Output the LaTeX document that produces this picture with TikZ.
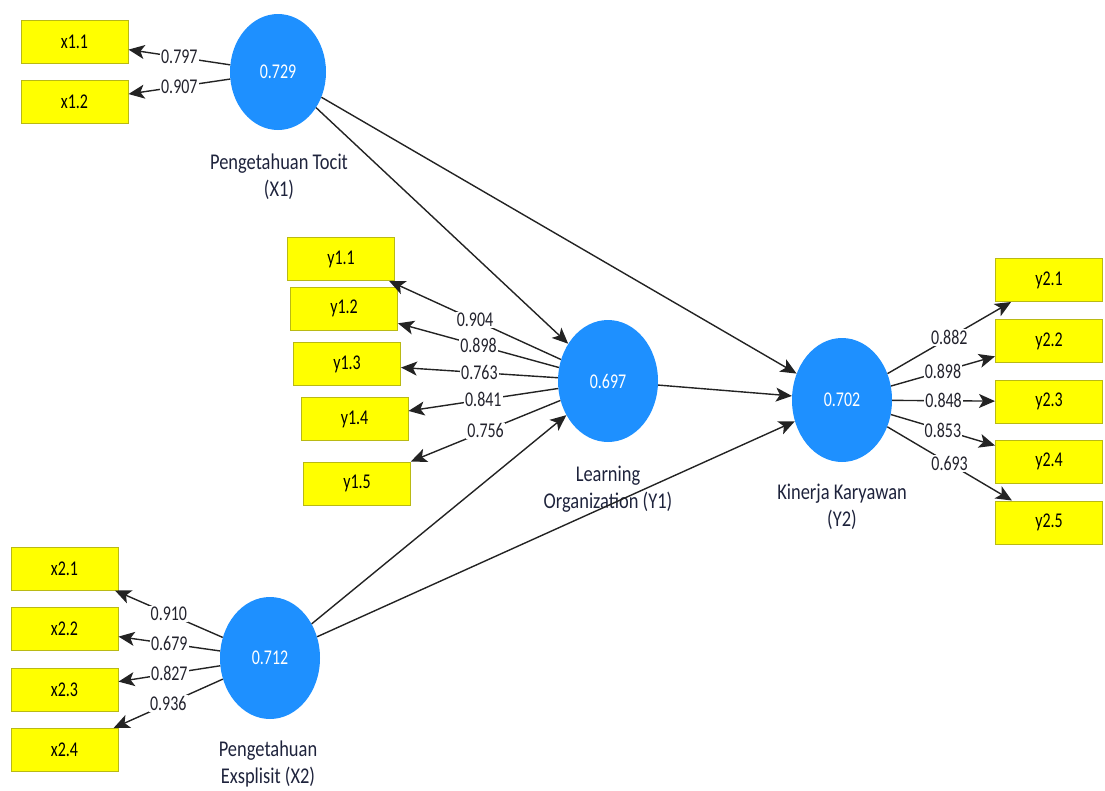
\documentclass[tikz,border=0pt]{standalone}
\usepackage{fontspec}
\setmainfont{Carlito}[FakeStretch=0.76]
\newfontfamily\namefamily{Carlito}[FakeStretch=0.82]
\usetikzlibrary{arrows.meta,shapes.geometric}
\definecolor{latblue}{RGB}{30,144,255}
\definecolor{indyellow}{RGB}{255,255,0}
\definecolor{boxedge}{RGB}{185,185,20}
\definecolor{linegray}{RGB}{35,35,35}
\definecolor{numtext}{RGB}{35,35,45}
\definecolor{nametext}{RGB}{30,35,60}
\newcommand{\diagfont}{\fontsize{21}{25}\selectfont}
\newcommand{\namefont}{\namefamily\fontsize{22.5}{27}\selectfont}
\begin{document}
\begin{tikzpicture}[x=1pt,y=-1pt,
  indbox/.style={draw=boxedge, fill=indyellow, line width=1pt,
    minimum width=107pt, minimum height=43pt, inner sep=0pt,
    font=\diagfont, text=black},
  latent/.style={ellipse, fill=latblue, inner sep=0pt,
    minimum width=100pt, minimum height=122pt, font=\diagfont, text=white},
  latname/.style={align=center, font=\namefont, text=nametext},
  coef/.style={fill=white, inner sep=1.2pt, font=\diagfont, text=numtext},
  link/.style={line width=1.4pt, draw=linegray,
    -{Stealth[length=16pt,width=14pt,inset=4pt]}}]
\useasboundingbox (0,0) rectangle (1105,790);

% latent variables
\node[latent, minimum width=96pt, minimum height=116pt] (X1) at (278,72) {0.729};
\node[latent] (Y1) at (608,381) {0.697};
\node[latent, minimum height=124pt] (Y2) at (842,400) {0.702};
\node[latent] (X2) at (270,658) {0.712};

\node[latname] (nX1) at (279,177) {Pengetahuan Tocit\\(X1)};
\node[latname] (nY1) at (608,489) {Learning\\Organization (Y1)};
\node[latname] (nY2) at (842,507) {Kinerja Karyawan\\(Y2)};
\node[latname] (nX2) at (268,764) {Pengetahuan\\Exsplisit (X2)};

% indicators
\node[indbox] (x11) at (74.5,41.5) {x1.1};
\node[indbox] (x12) at (74.5,102) {x1.2};

\node[indbox] (y11) at (341,259) {y1.1};
\node[indbox] (y12) at (344,308.5) {y1.2};
\node[indbox] (y13) at (347,364) {y1.3};
\node[indbox] (y14) at (354.5,419) {y1.4};
\node[indbox] (y15) at (357,483.5) {y1.5};

\node[indbox] (x21) at (64.5,568.5) {x2.1};
\node[indbox] (x22) at (64.5,629) {x2.2};
\node[indbox] (x23) at (64.5,690) {x2.3};
\node[indbox] (x24) at (64.5,750) {x2.4};

\node[indbox] (y21) at (1049,280) {y2.1};
\node[indbox] (y22) at (1049,341) {y2.2};
\node[indbox] (y23) at (1049,401.5) {y2.3};
\node[indbox] (y24) at (1049,461.5) {y2.4};
\node[indbox] (y25) at (1049,522.5) {y2.5};

% structural paths
\draw[link] (X1) -- (Y1);
\draw[link] (X1) -- (Y2);
\draw[link] (Y1) -- (Y2);
\draw[link] (X2) -- (Y1);
\draw[link] (X2) -- (Y2);

% outer loadings
\draw[link] (X1) -- node[coef] {0.797} (x11);
\draw[link] (X1) -- node[coef] {0.907} (x12);

\draw[link] (Y1) -- node[coef] {0.904} (y11);
\draw[link] (Y1) -- node[coef] {0.898} (y12);
\draw[link] (Y1) -- node[coef] {0.763} (y13);
\draw[link] (Y1) -- node[coef] {0.841} (y14);
\draw[link] (Y1) -- node[coef] {0.756} (y15);

\draw[link] (X2) -- node[coef] {0.910} (x21);
\draw[link] (X2) -- node[coef] {0.679} (x22);
\draw[link] (X2) -- node[coef] {0.827} (x23);
\draw[link] (X2) -- node[coef] {0.936} (x24);

\draw[link] (Y2) -- node[coef] {0.882} (y21);
\draw[link] (Y2) -- node[coef] {0.898} (y22);
\draw[link] (Y2) -- node[coef] {0.848} (y23);
\draw[link] (Y2) -- node[coef] {0.853} (y24);
\draw[link] (Y2) -- node[coef] {0.693} (y25);
\end{tikzpicture}
\end{document}
